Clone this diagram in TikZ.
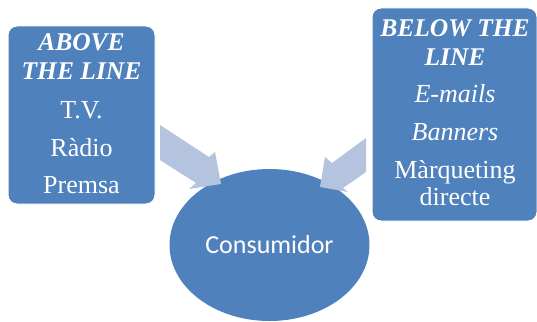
\documentclass[tikz,border=0pt]{standalone}
\usepackage{fontspec}
\setmainfont{Liberation Serif}
\newfontfamily\carlitofont{Carlito}
\usetikzlibrary{shapes.geometric}
\definecolor{boxblue}{HTML}{4F81BD}
\definecolor{arrowblue}{HTML}{B4C3DE}
\tikzset{
  panel/.style={fill=boxblue, draw=white, line width=1pt, rounded corners=9pt},
  title/.style={anchor=base, text=white, font=\fontsize{25.5}{28}\selectfont\bfseries\itshape},
  item/.style={anchor=base, text=white, font=\fontsize{26}{28}\selectfont},
  itemit/.style={anchor=base, text=white, font=\fontsize{26}{28}\selectfont\itshape},
  blockarrow/.style={fill=arrowblue, draw=none}
}
\begin{document}
\begin{tikzpicture}[x=1pt,y=-1pt]
\useasboundingbox (0,0) rectangle (537,321);
% left panel
\draw[panel] (8,26) rectangle (155,204);
\node[title] (a1) at (81.5,50) {ABOVE};
\node[title] (a2) at (81.5,79) {THE LINE};
\node[item] (tv) at (81.5,118) {T.V.};
\node[item] (radio) at (81.5,156) {Ràdio};
\node[item] (premsa) at (81.5,193) {Premsa};
% right panel
\draw[panel] (372,8) rectangle (537,221);
\node[title] (b1) at (455,37) {BELOW THE};
\node[title] (b2) at (455,65) {LINE};
\node[itemit] (mail) at (455,102) {E-mails};
\node[itemit] (ban) at (455,140) {Banners};
\node[item] (marq) at (455,178) {Màrqueting};
\node[item] (dir) at (455,205) {directe};
% consumer
\node[ellipse, fill=boxblue, minimum width=200pt, minimum height=152pt, inner sep=0pt,
      text=white, font=\carlitofont\fontsize{26}{30}\selectfont] (cons) at (269.5,245) {Consumidor};
% block arrows
\fill[blockarrow] (160,125) -- (209,157) -- (215,152) -- (221,184) -- (189,189) -- (196,183) -- (160,160) -- cycle;
\fill[blockarrow] (366,138) -- (332,163) -- (325,157) -- (320,187) -- (348,192) -- (343,188) -- (366,172) -- cycle;
\end{tikzpicture}
\end{document}
